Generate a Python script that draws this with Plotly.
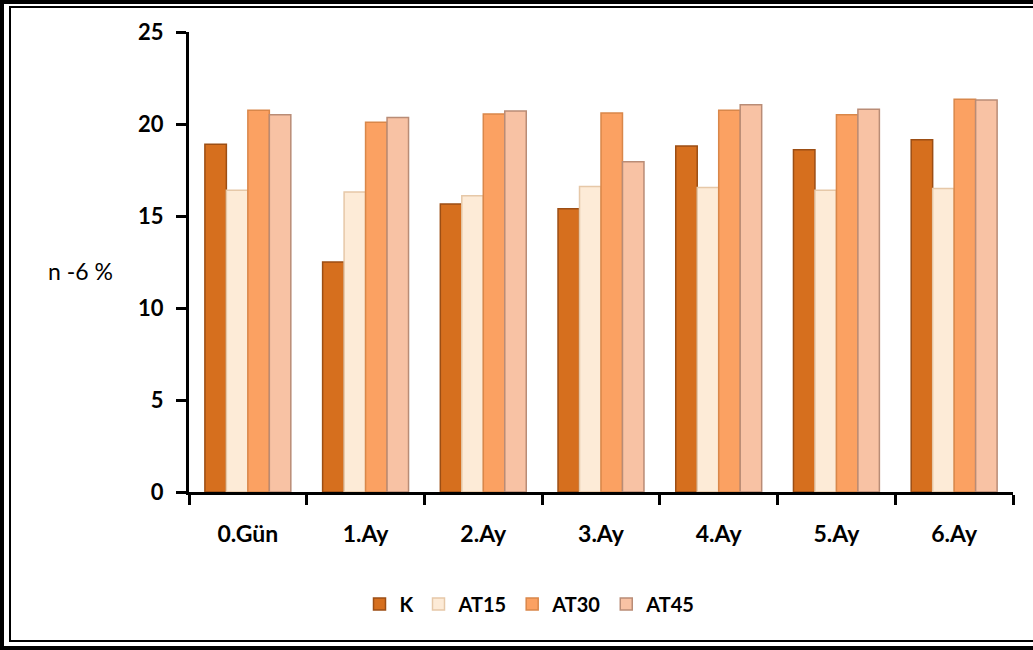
import plotly.graph_objects as go

categories = ["0.Gün", "1.Ay", "2.Ay", "3.Ay", "4.Ay", "5.Ay", "6.Ay"]
series_names = ["K", "AT15", "AT30", "AT45"]
K = [18.9, 12.5, 15.65, 15.4, 18.8, 18.6, 19.15]
AT15 = [16.4, 16.3, 16.1, 16.6, 16.55, 16.4, 16.5]
AT30 = [20.75, 20.1, 20.55, 20.6, 20.75, 20.5, 21.35]
AT45 = [20.5, 20.35, 20.7, 17.95, 21.05, 20.8, 21.3]
y_ticks = [0, 5, 10, 15, 20, 25]

fills = ["#D66F1E", "#FDEBD7", "#FBA162", "#F8C2A4"]
lines = ["#9C4E14", "#E6C8A8", "#D9874A", "#B98C76"]

fig = go.Figure()
for name, vals, fc, lc in zip(series_names, [K, AT15, AT30, AT45], fills, lines):
    fig.add_trace(go.Bar(
        x=categories, y=vals, name=name,
        marker=dict(color=fc, line=dict(color=lc, width=1.5)),
    ))

font_family = "Lato, 'Open Sans', 'DejaVu Sans', sans-serif"

L, R, T, B = 189, 20, 32, 158
PW, PH = 1033 - L - R, 650 - T - B

fig.update_layout(
    width=1033, height=650,
    paper_bgcolor="white", plot_bgcolor="white",
    barmode="group", bargap=0.27, bargroupgap=0.0,
    margin=dict(l=L, r=R, t=T, b=B),
    font=dict(family=font_family, size=17, color="black"),
    showlegend=True,
    legend=dict(
        orientation="h", x=(530 - L) / PW, xanchor="center",
        y=(492 - 604) / PH, yanchor="middle",
        font=dict(family=font_family, size=20, color="black", weight="bold"),
        itemwidth=30, tracegroupgap=0,
    ),
    xaxis=dict(
        type="category", showgrid=False, zeroline=False,
        showline=True, linecolor="black", linewidth=3,
        ticks="outside", tickson="boundaries", ticklen=10, tickwidth=3, tickcolor="black",
        tickfont=dict(family=font_family, size=23, color="black", weight="bold"),
        ticklabelstandoff=19,
    ),
    yaxis=dict(
        range=[0, 25], tickvals=y_ticks, showgrid=False, zeroline=False,
        showline=True, linecolor="black", linewidth=3,
        ticks="outside", ticklen=10, tickwidth=3, tickcolor="black",
        tickfont=dict(family=font_family, size=22, color="black", weight="bold"),
        ticklabelstandoff=8,
    ),
)

fig.add_annotation(
    text="n -6 %", xref="paper", yref="paper",
    x=(80 - L) / PW, y=(492 - 271) / PH,
    xanchor="center", yanchor="middle", showarrow=False,
    font=dict(family=font_family, size=23, color="black"),
)

# double frame around the chart
def px_x(p):
    return (p - L) / PW

def px_y(p):
    return (650 - B - p) / PH

fig.add_shape(type="rect", xref="paper", yref="paper",
              x0=px_x(2), x1=px_x(1080), y0=px_y(648), y1=px_y(2),
              line=dict(color="black", width=4), layer="above")
fig.add_shape(type="rect", xref="paper", yref="paper",
              x0=px_x(10), x1=px_x(1080), y0=px_y(641), y1=px_y(7),
              line=dict(color="black", width=2), layer="above")

fig.write_html(
    "out.html",
    config={"displayModeBar": False},
    post_script="document.body.style.margin='0';document.body.style.overflow='hidden';",
)
